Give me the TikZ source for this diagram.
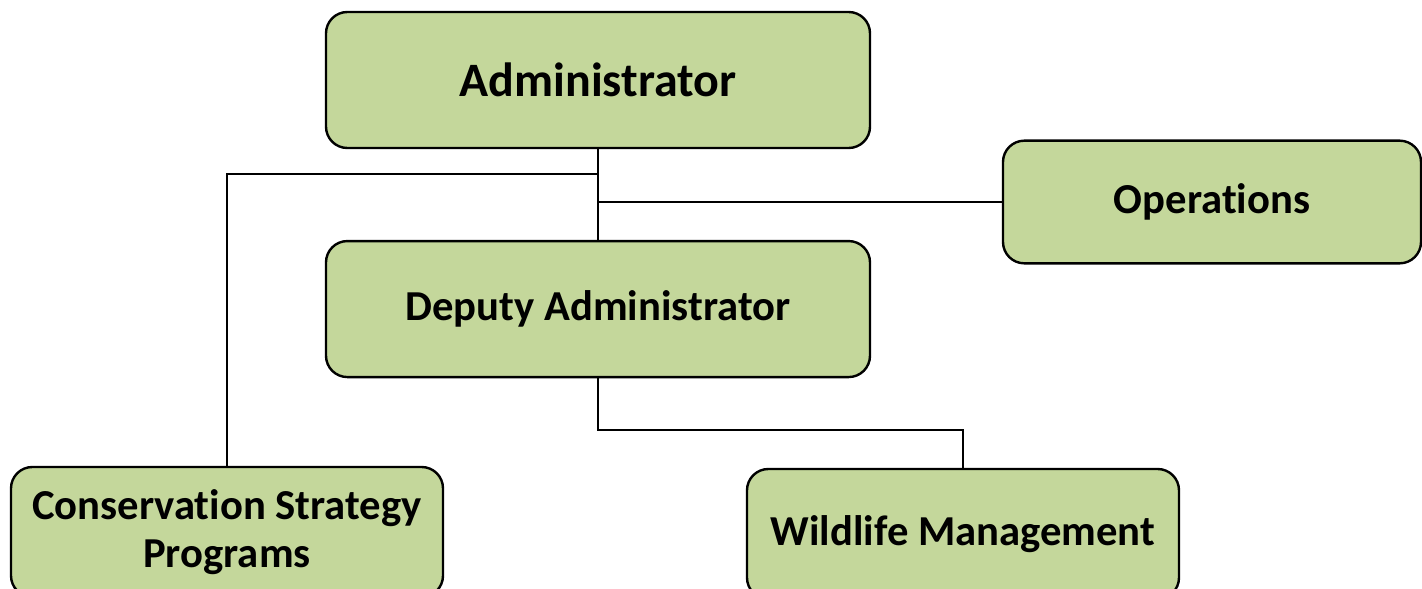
\documentclass[tikz,border=0pt]{standalone}
\usepackage{fontspec}
\setmainfont{Carlito}[RawFeature={-liga}]
\usetikzlibrary{positioning}
\definecolor{boxgreen}{HTML}{C4D79B}
\tikzset{
	orgbox/.style={rectangle, rounded corners=16pt, draw=black, line width=1.8pt,
		fill=boxgreen, align=center, font=\bfseries\fontsize{32}{36}\selectfont},
	link/.style={line width=1.7pt}
}
\begin{document}
\begin{tikzpicture}[
		x=0.75pt, y=-0.75pt, % one unit = one pixel of the page
		node distance=68pt % gap between the two top boxes
		]
		\useasboundingbox (0,0) rectangle (1422,589);
		
		\node[orgbox, minimum width=408pt, minimum height=102pt,
			font=\bfseries\fontsize{36}{40}\selectfont] (admin) at (598,80) {Administrator};
		\node[orgbox, minimum width=408pt, minimum height=102pt] (deputy) [below=of admin] {Deputy Administrator};
		\node[orgbox, minimum width=313.5pt, minimum height=92pt] (ops) at (1212,202) {Operations};
		\node[orgbox, minimum width=324pt, minimum height=97.5pt] (cons) at (227,532) {Conservation Strategy\\Programs};
		\node[orgbox, minimum width=324pt, minimum height=97.5pt] (wild) at (963,534) {Wildlife Management};
		
		\coordinate (split) at ([yshift=-18.75pt]admin.south);
		
		\draw[link] (admin.south) -- (deputy.north);
		\draw[link] (split) -| (cons.north);
		\draw[link] (admin.south |- ops.west) -- (ops.west);
		\draw[link] (deputy.south) -- ++(0,52) -| (wild.north);
	\end{tikzpicture}
\end{document}
